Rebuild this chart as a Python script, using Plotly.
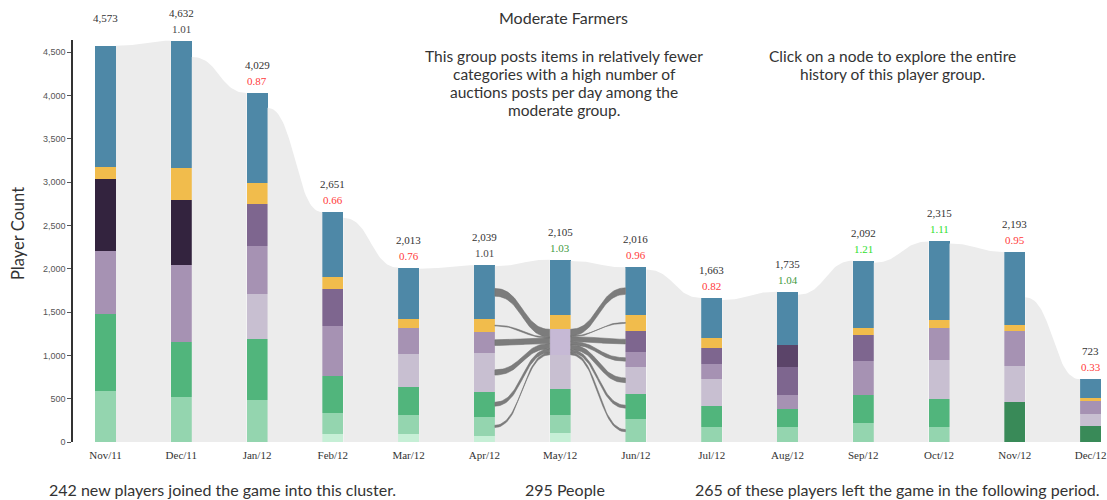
import numpy as np
import plotly.graph_objects as go

# ---------------- data ----------------
months = ["Nov/11", "Dec/11", "Jan/12", "Feb/12", "Mar/12", "Apr/12", "May/12",
          "Jun/12", "Jul/12", "Aug/12", "Sep/12", "Oct/12", "Nov/12", "Dec/12"]
totals = [4573, 4632, 4029, 2651, 2013, 2039, 2105, 2016, 1663, 1735, 2092, 2315, 2193, 723]
ratios = [None, 1.01, 0.87, 0.66, 0.76, 1.01, 1.03, 0.96, 0.82, 1.04, 1.21, 1.11, 0.95, 0.33]

# node sizes per player type (stacked bottom -> top)
pale_green     = [0, 0, 0, 92, 89, 69, 100, 0, 0, 0, 0, 0, 0, 0]
light_green    = [592, 516, 489, 239, 223, 223, 212, 262, 173, 177, 216, 170, 0, 0]
dark_green     = [0, 0, 0, 0, 0, 0, 0, 0, 0, 0, 0, 0, 465, 185]
green          = [886, 642, 700, 435, 327, 289, 300, 292, 246, 201, 330, 330, 0, 0]
pale_lavender  = [0, 0, 517, 0, 374, 443, 394, 316, 305, 0, 0, 447, 416, 138]
selected       = [0, 0, 0, 0, 0, 0, 295, 0, 0, 0, 0, 0, 0, 0]
lavender       = [728, 886, 561, 577, 303, 246, 0, 166, 177, 161, 389, 373, 401, 150]
mid_purple     = [0, 0, 481, 420, 0, 0, 0, 246, 181, 331, 297, 0, 0, 0]
deep_purple    = [0, 0, 0, 0, 0, 0, 0, 0, 0, 250, 0, 0, 0, 0]
darkest_purple = [831, 750, 0, 0, 0, 0, 0, 0, 0, 0, 0, 0, 0, 0]
yellow         = [135, 366, 246, 146, 101, 147, 166, 185, 122, 0, 88, 89, 66, 32]
blue           = [1401, 1472, 1035, 742, 596, 622, 638, 549, 459, 615, 772, 906, 845, 218]

# height of the grey "retained" band where it leaves each period
retained_top = [4573, 4445, 3857, 2587, 2000, 2030, 2090, 1990, 1640, 1700, 2070, 2290, 1670]

# flows into / out of the selected May node (295 people)
in_from = ["blue", "yellow", "lavender", "pale_lavender", "green", "light_green"]
in_vals = [90, 10, 65, 60, 45, 25]
out_to = ["blue", "yellow", "mid_purple", "lavender", "pale_lavender", "green", "light_green"]
out_vals = [75, 10, 55, 40, 55, 35, 25]
selected_idx = 6

# ---------------- styling ----------------
series = [
    ("pale_green", pale_green, "#c6efd6"),
    ("light_green", light_green, "#94d5af"),
    ("dark_green", dark_green, "#398a58"),
    ("green", green, "#51b57c"),
    ("pale_lavender", pale_lavender, "#c8bfd1"),
    ("selected", selected, "#c6b9d5"),
    ("lavender", lavender, "#a692b3"),
    ("mid_purple", mid_purple, "#7e668f"),
    ("deep_purple", deep_purple, "#5b4469"),
    ("darkest_purple", darkest_purple, "#33233e"),
    ("yellow", yellow, "#f1bc4c"),
    ("blue", blue, "#4e88a7"),
]
BAR_W = 0.277
HW = BAR_W / 2

# cumulative stacks for positions
stack_lo = {}
cum = np.zeros(len(months))
for name, vals, _ in series:
    stack_lo[name] = cum.copy()
    cum = cum + np.array(vals, dtype=float)
seg = {name: np.array(vals, dtype=float) for name, vals, _ in series}


def link_curve(x0, x1, y0, y1, n=40):
    s = np.linspace(0, 1, n)
    xm = (x0 + x1) / 2
    x = (1 - s) ** 3 * x0 + 3 * (1 - s) ** 2 * s * xm + 3 * (1 - s) * s ** 2 * xm + s ** 3 * x1
    y = y0 + (y1 - y0) * (3 * s ** 2 - 2 * s ** 3)
    return x, y


fig = go.Figure()

# grey background band between consecutive periods
for i in range(len(months) - 1):
    x0, x1 = i + HW, i + 1 - HW
    xt, yt = link_curve(x0, x1, retained_top[i], totals[i + 1])
    xs = list(xt) + [x1, x0]
    ys = list(yt) + [0, 0]
    fig.add_trace(go.Scatter(x=xs, y=ys, fill="toself", mode="lines",
                             line=dict(width=0), fillcolor="#ececec",
                             hoverinfo="skip", showlegend=False))


def ribbon(x0, x1, yc0, yc1, w):
    xa, ya = link_curve(x0, x1, yc0 + w / 2, yc1 + w / 2)
    xb, yb = link_curve(x0, x1, yc0 - w / 2, yc1 - w / 2)
    return list(xa) + list(xb[::-1]) + [xa[0]], list(ya) + list(yb[::-1]) + [ya[0]]


FLOW = "rgba(112,112,112,0.9)"
sel_top = stack_lo["selected"][selected_idx] + seg["selected"][selected_idx]
# inflows (Apr -> May)
src = selected_idx - 1
pos = sel_top
for cat, v in zip(in_from, in_vals):
    yc_src = stack_lo[cat][src] + seg[cat][src] / 2
    yc_tgt = pos - v / 2
    pos -= v
    xs, ys = ribbon(src + HW, selected_idx - HW, yc_src, yc_tgt, v)
    fig.add_trace(go.Scatter(x=xs, y=ys, fill="toself", mode="lines",
                             line=dict(width=0.6, color=FLOW), fillcolor=FLOW,
                             hoverinfo="skip", showlegend=False))
# outflows (May -> Jun)
tgt = selected_idx + 1
pos = sel_top
for cat, v in zip(out_to, out_vals):
    yc_tgt = stack_lo[cat][tgt] + seg[cat][tgt] / 2
    yc_src = pos - v / 2
    pos -= v
    xs, ys = ribbon(selected_idx + HW, tgt - HW, yc_src, yc_tgt, v)
    fig.add_trace(go.Scatter(x=xs, y=ys, fill="toself", mode="lines",
                             line=dict(width=0.6, color=FLOW), fillcolor=FLOW,
                             hoverinfo="skip", showlegend=False))

# stacked nodes
xidx = list(range(len(months)))
for name, vals, col in series:
    fig.add_trace(go.Bar(x=xidx, y=vals, width=BAR_W, marker=dict(color=col, line=dict(width=0)),
                         name=name, showlegend=False, hoverinfo="skip", cliponaxis=False))


def ratio_color(r):
    if r < 1:
        return "#ff3b3b"
    if r < 1.02:
        return "#4a4a4a"
    if r < 1.1:
        return "#3f9a3f"
    return "#2fe02f"


annotations = []
for i, t in enumerate(totals):
    annotations.append(dict(x=i, y=t, xref="x", yref="y", text=f"{t:,}", showarrow=False,
                            xanchor="center", yanchor="middle",
                            yshift=28, font=dict(family="Liberation Serif", size=11, color="#333")))
    if ratios[i] is not None:
        annotations.append(dict(x=i, y=t, xref="x", yref="y", text=f"{ratios[i]:.2f}",
                                showarrow=False, yshift=12, xanchor="center", yanchor="middle",
                                font=dict(family="Liberation Serif", size=11, color=ratio_color(ratios[i]))))

L, PW, B0, T0 = 73, 1032, 442, 40
PH = B0 - T0


def px(xp):
    return (xp - L) / PW


def py(yp):
    return (B0 - yp) / PH


TXT = dict(family="Lato", color="#333")


def note(x, y, text, size=16, xanchor="center", **kw):
    annotations.append(dict(xref="paper", yref="paper", x=px(x), y=py(y), text=text,
                            showarrow=False, xanchor=xanchor, yanchor="middle",
                            font=dict(size=size, **TXT), **kw))


note(563, 17, "Moderate Farmers")
desc = ["This group posts items in relatively fewer", "categories with a high number of",
        "auctions posts per day among the", "moderate group."]
for k, line in enumerate(desc):
    note(564, 56 + 18 * k, line, size=15.5)
click = ["Click on a node to explore the entire", "history of this player group."]
for k, line in enumerate(click):
    note(892, 56 + 18 * k, line, size=15.5)
note(47, 490, "242 new players joined the game into this cluster.", xanchor="left")
note(565, 490, "295 People")
note(1102, 490, "265 of these players left the game in the following period.", xanchor="right")
note(18, 234, "Player Count", size=16.5, textangle=-90)

fig.update_layout(
    width=1107, height=500,
    margin=dict(l=L, r=1107 - L - PW, t=T0, b=500 - B0),
    barmode="stack", bargap=0,
    plot_bgcolor="white", paper_bgcolor="white",
    showlegend=False,
    annotations=annotations,
    xaxis=dict(range=[-0.429, 13.19], tickvals=xidx, ticktext=months, showgrid=False,
               zeroline=False, showline=False, ticks="", ticklabelstandoff=5,
               tickfont=dict(family="Liberation Serif", size=11, color="#333")),
    yaxis=dict(range=[0, 4640], tickvals=list(range(0, 4501, 500)), tickformat=",",
               showgrid=False, zeroline=False, showline=True, linecolor="#333", linewidth=1.5,
               ticks="outside", ticklen=4, tickcolor="#555",
               tickfont=dict(family="Liberation Sans", size=9, color="#555")),
)

fig.write_html("out.html", config={"displayModeBar": False},
               post_script="document.body.style.margin='0';document.body.style.padding='0';document.body.style.overflow='hidden';")
